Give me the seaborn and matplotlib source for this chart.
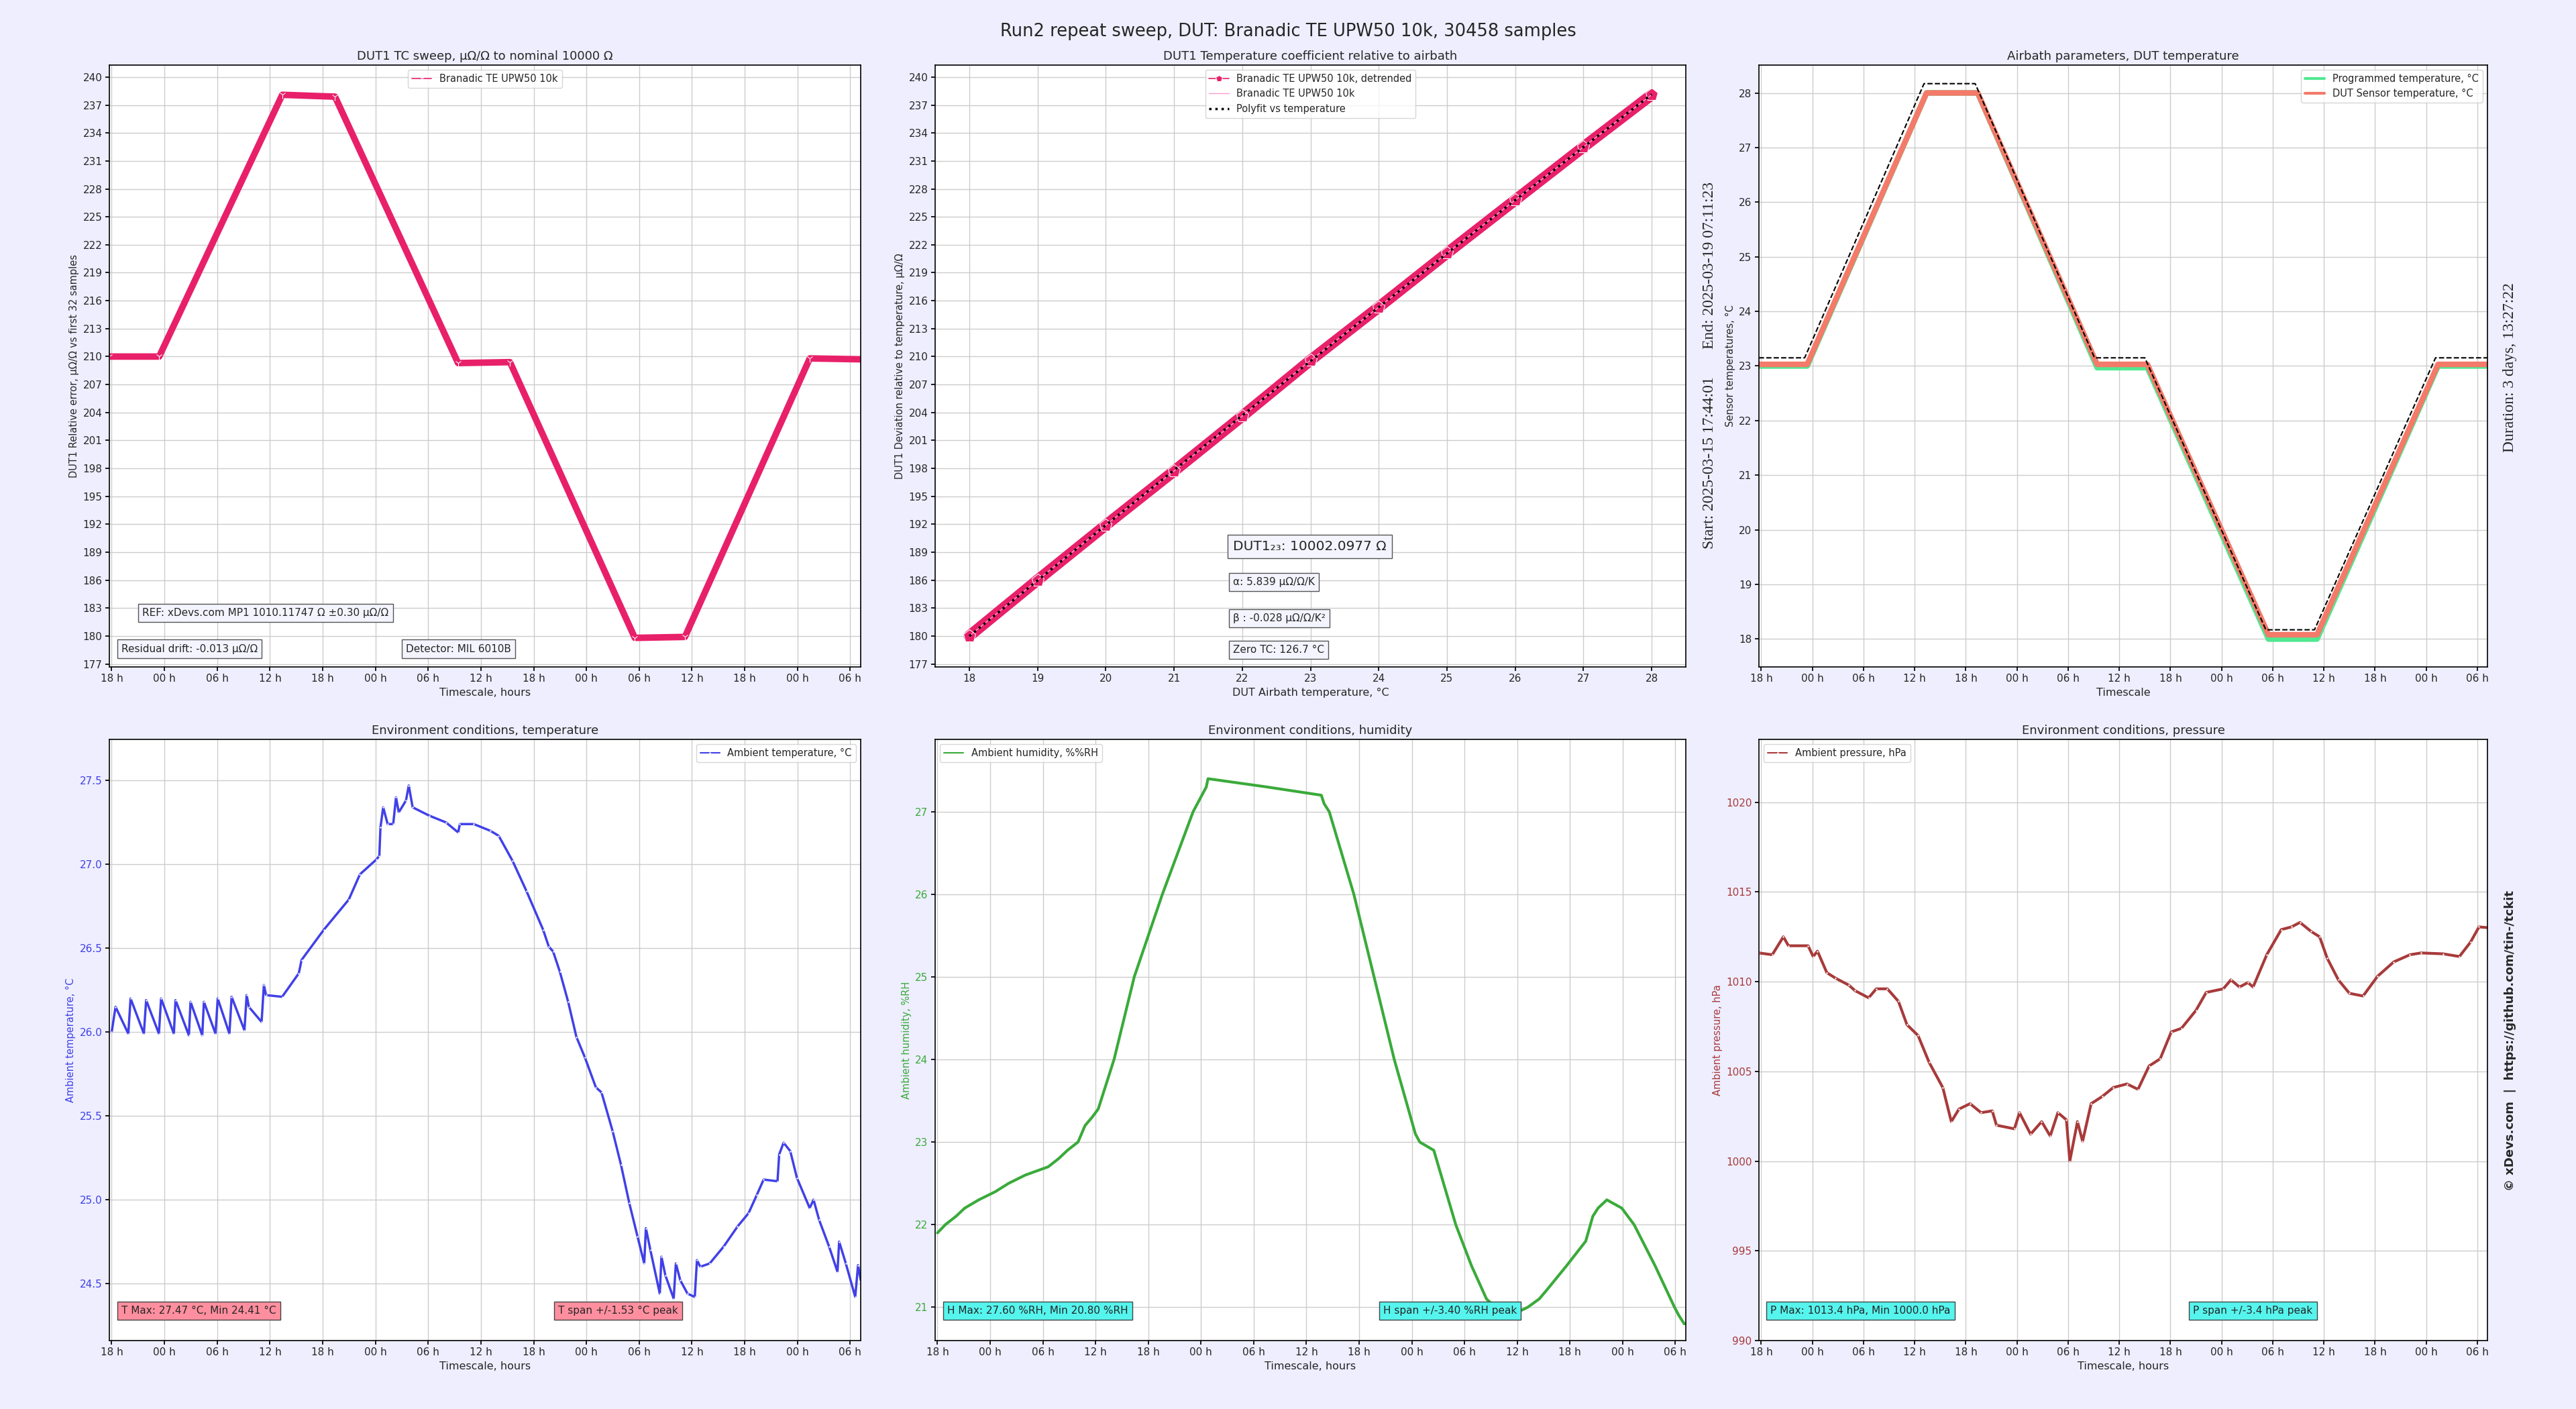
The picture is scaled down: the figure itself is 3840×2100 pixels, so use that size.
import numpy as np
import pandas as pd
import matplotlib
matplotlib.use("Agg")
import matplotlib.pyplot as plt
import matplotlib.dates as mdates
import seaborn as sns

# ---------------- data ----------------
base = pd.Timestamp("2025-03-15 18:00:00")
t_start = pd.Timestamp("2025-03-15 17:44:01")
t_end = pd.Timestamp("2025-03-19 07:11:23")

# hours after 18:00 on 2025-03-15
sweep_h = [-0.27, 5.4, 19.4, 25.4, 39.4, 45.3, 59.5, 65.2, 79.4, 85.45]
dut_err = [210.0, 210.0, 238.1, 237.9, 209.3, 209.4, 179.8, 179.9, 209.8, 209.7]
prog_temp = [23.0, 23.0, 28.0, 28.0, 22.97, 22.97, 18.0, 18.0, 23.0, 23.0]
sens_temp = [23.03, 23.03, 28.0, 28.0, 23.03, 23.03, 18.08, 18.08, 23.03, 23.03]
set_h = [-0.27, 5.1, 19.1, 25.1, 39.1, 45.0, 59.2, 64.9, 79.1, 85.45]
set_temp = [23.15, 23.15, 28.17, 28.17, 23.15, 23.15, 18.17, 18.17, 23.15, 23.15]

tc_temp = [18, 19, 20, 21, 22, 23, 24, 25, 26, 27, 28]
tc_dev = [180.0, 186.0, 191.9, 197.7, 203.6, 209.6, 215.3, 221.1, 226.8, 232.5, 238.1]

amb_t_h = [0, 0.44, 1.89, 2.15, 3.66, 3.92, 5.37, 5.62, 7.07, 7.26, 8.78, 8.97, 10.3, 10.49,
           11.81, 12.06, 13.39, 13.64, 15.1, 15.35, 15.6, 17.05, 17.31, 17.56, 19.39, 21.28,
           21.6, 24.13, 26.97, 28.23, 30.13, 30.44, 30.57, 30.88, 31.39, 32.02, 32.34, 32.65,
           33.47, 33.79, 34.23, 36.13, 38.02, 39.41, 39.6, 41.18, 43.07, 44.02, 45.6, 47.18,
           49.07, 49.71, 50.21, 50.97, 51.92, 52.86, 53.81, 55.07, 55.71, 56.97, 57.92, 58.87,
           59.81, 60.57, 60.76, 61.27, 62.34, 62.53, 62.97, 63.92, 64.17, 64.67, 65.49, 66.32,
           66.57, 66.95, 68.02, 69.6, 71.18, 72.44, 73.39, 74.15, 75.73, 75.92, 76.42, 77.18,
           77.94, 79.39, 79.83, 80.46, 81.6, 82.55, 82.74, 83.5, 84.57, 84.89, 85.2]
amb_t = [26.0, 26.15, 25.99, 26.2, 25.99, 26.19, 25.99, 26.2, 25.99, 26.19, 25.98, 26.18, 25.98,
         26.18, 25.99, 26.2, 25.99, 26.21, 26.01, 26.22, 26.15, 26.06, 26.28, 26.22, 26.21, 26.35,
         26.43, 26.61, 26.79, 26.94, 27.03, 27.05, 27.22, 27.34, 27.24, 27.24, 27.40, 27.31,
         27.38, 27.47, 27.34, 27.29, 27.25, 27.19, 27.24, 27.24, 27.2, 27.17, 27.02, 26.84,
         26.61, 26.51, 26.48, 26.36, 26.18, 25.97, 25.85, 25.67, 25.64, 25.41, 25.21, 24.98,
         24.78, 24.62, 24.83, 24.7, 24.44, 24.66, 24.55, 24.41, 24.62, 24.52, 24.44, 24.42,
         24.64, 24.6, 24.62, 24.72, 24.84, 24.92, 25.03, 25.12, 25.11, 25.27, 25.34, 25.29,
         25.13, 24.95, 25.0, 24.88, 24.72, 24.57, 24.75, 24.62, 24.42, 24.61, 24.52]

amb_h_h = [0, 0.9, 2.1, 3.1, 4.7, 6.6, 8.1, 10.0, 12.6, 13.8, 14.8, 16.0, 16.4, 16.8, 17.6, 18.3,
           20.1, 22.4, 25.6, 29.1, 30.1, 30.6, 30.8, 37.5, 43.7, 44.0, 44.6, 47.4, 49.7, 52.0,
           54.4, 54.9, 56.5, 59.0, 60.8, 62.5, 63.5, 65.3, 67.2, 68.5, 69.3, 71.6, 73.8, 74.6,
           75.2, 76.2, 77.9, 79.3, 81.7, 83.9, 84.4, 85.0, 85.45]
amb_h = [21.9, 22.0, 22.1, 22.2, 22.3, 22.4, 22.5, 22.6, 22.7, 22.8, 22.9, 23.0, 23.1, 23.2, 23.3,
         23.4, 24.0, 25.0, 26.0, 27.0, 27.2, 27.3, 27.4, 27.3, 27.2, 27.1, 27.0, 26.0, 25.0, 24.0,
         23.1, 23.0, 22.9, 22.0, 21.5, 21.1, 21.0, 20.9, 21.0, 21.1, 21.2, 21.5, 21.8, 22.1,
         22.2, 22.3, 22.2, 22.0, 21.5, 21.0, 20.9, 20.8, 20.8]

amb_p_h = [-0.27, 1.3, 2.6, 3.2, 5.5, 6.1, 6.6, 7.7, 8.7, 10.3, 11.0, 12.6, 13.5, 14.8, 16.1, 17.1,
           18.4, 19.7, 21.3, 22.3, 23.2, 24.5, 25.8, 27.1, 27.6, 29.7, 30.3, 31.6, 32.9, 33.9,
           34.8, 35.8, 36.2, 37.1, 37.7, 38.7, 40.0, 41.3, 42.9, 44.2, 45.5, 46.8, 48.1, 49.3,
           51.0, 52.2, 54.2, 55.1, 56.1, 57.1, 57.7, 59.3, 61.0, 62.2, 63.2, 64.5, 65.5, 66.4,
           67.7, 69.0, 70.6, 72.3, 74.2, 76.1, 77.4, 80.0, 81.9, 83.2, 84.2, 85.45]
amb_p = [1011.6, 1011.5, 1012.5, 1012.0, 1012.0, 1011.4, 1011.7, 1010.5, 1010.2, 1009.8, 1009.5,
         1009.1, 1009.6, 1009.6, 1008.9, 1007.6, 1007.0, 1005.5, 1004.1, 1002.2, 1002.9, 1003.2,
         1002.7, 1002.8, 1002.0, 1001.8, 1002.7, 1001.5, 1002.2, 1001.4, 1002.7, 1002.3, 1000.0,
         1002.2, 1001.1, 1003.2, 1003.6, 1004.1, 1004.3, 1004.0, 1005.3, 1005.7, 1007.2, 1007.4,
         1008.4, 1009.4, 1009.6, 1010.1, 1009.7, 1009.95, 1009.7, 1011.5, 1012.9, 1013.05,
         1013.3, 1012.8, 1012.5, 1011.3, 1010.1, 1009.35, 1009.2, 1010.3, 1011.1, 1011.5,
         1011.6, 1011.55, 1011.4, 1012.2, 1013.05, 1013.0]


def to_time(hours):
    return base + pd.to_timedelta(np.asarray(hours), unit="h")


# ---------------- style ----------------
sns.set_theme(style="whitegrid")
plt.rcParams["font.family"] = ["DejaVu Sans"]
plt.rcParams["grid.color"] = "#cccccc"

TICK = 11
LAB = 10.5
LEG = 10.5
ANN = 11

W, H = 3840, 2100
fig = plt.figure(figsize=(38.4, 21), dpi=100, facecolor="#eeeeff")
cols = [(163, 1283), (1394, 2513), (2622, 3708)]
rows = [(97, 994), (1102, 1998)]
axes = [[fig.add_axes([x0 / W, 1 - y1 / H, (x1 - x0) / W, (y1 - y0) / H])
         for (x0, x1) in cols] for (y0, y1) in rows]

fig.suptitle("Run2 repeat sweep, DUT: Branadic TE UPW50 10k, 30458 samples",
             fontsize=18.5, y=0.984)

boxw = dict(boxstyle="square,pad=0.4", facecolor="#f4f4ff", edgecolor="#555555")


def time_axis(ax, xlabel):
    ax.set_xlim(t_start, t_end)
    ax.xaxis.set_major_locator(mdates.HourLocator(byhour=[0, 6, 12, 18]))
    ax.xaxis.set_major_formatter(mdates.DateFormatter("%H h"))
    ax.set_xlabel(xlabel, fontsize=LAB + 1)


def style(ax, title):
    ax.set_facecolor("white")
    ax.set_title(title, fontsize=13)
    for s in ax.spines.values():
        s.set_color("black")
        s.set_linewidth(1.2)
    ax.tick_params(axis="both", labelsize=TICK, length=4, color="black", left=True, bottom=True)


# ---- top left ----
ax = axes[0][0]
sns.lineplot(x=to_time(sweep_h), y=dut_err, ax=ax, color="#e8206a", lw=7, marker="1",
             markersize=8, label="Branadic TE UPW50 10k", estimator=None, sort=False)
ax.set_ylim(176.68, 241.29)
ax.set_yticks(np.arange(177, 241, 3))
time_axis(ax, "Timescale, hours")
ax.set_ylabel("DUT1 Relative error, µΩ/Ω vs first 32 samples", fontsize=LAB)
leg = ax.legend(loc="upper center", fontsize=LEG)
for l in leg.get_lines():
    l.set_linewidth(1.2)
ax.text(0.044, 0.09, "REF: xDevs.com MP1 1010.11747 Ω ±0.30 µΩ/Ω", transform=ax.transAxes,
        fontsize=ANN, va="center", bbox=boxw)
ax.text(0.016, 0.03, "Residual drift: -0.013 µΩ/Ω", transform=ax.transAxes,
        fontsize=ANN, va="center", bbox=boxw)
ax.text(0.395, 0.03, "Detector: MIL 6010B", transform=ax.transAxes,
        fontsize=ANN, va="center", bbox=boxw)
style(ax, "DUT1 TC sweep, µΩ/Ω to nominal 10000 Ω")

# ---- top middle ----
ax = axes[0][1]
sns.lineplot(x=tc_temp, y=tc_dev, ax=ax, color="#e8206a", lw=12, marker="p", markersize=14,
             label="Branadic TE UPW50 10k, detrended", estimator=None, sort=False)
sns.lineplot(x=tc_temp, y=tc_dev, ax=ax, color="#ff9ad0", lw=1,
             label="Branadic TE UPW50 10k", estimator=None, sort=False)
coef = np.polyfit(tc_temp, tc_dev, 2)
sns.lineplot(x=tc_temp, y=np.polyval(coef, tc_temp), ax=ax, color="black", lw=2.5,
             linestyle=":", label="Polyfit vs temperature", estimator=None, sort=False)
ax.set_xlim(17.5, 28.5)
ax.set_xticks(range(18, 29))
ax.set_ylim(176.68, 241.29)
ax.set_yticks(np.arange(177, 241, 3))
ax.set_xlabel("DUT Airbath temperature, °C", fontsize=LAB + 1)
ax.set_ylabel("DUT1 Deviation relative to temperature, µΩ/Ω", fontsize=LAB)
leg = ax.legend(loc="upper center", fontsize=LEG)
leg.get_lines()[0].set_linewidth(1.2)
leg.get_lines()[0].set_markersize(7)
ax.text(0.397, 0.20, "DUT1₂₃: 10002.0977 Ω", transform=ax.transAxes, fontsize=14.5,
        va="center", bbox=boxw)
ax.text(0.397, 0.141, "α: 5.839 µΩ/Ω/K", transform=ax.transAxes, fontsize=ANN,
        va="center", bbox=boxw)
ax.text(0.397, 0.081, "β : -0.028 µΩ/Ω/K²", transform=ax.transAxes, fontsize=ANN,
        va="center", bbox=boxw)
ax.text(0.397, 0.028, "Zero TC: 126.7 °C", transform=ax.transAxes, fontsize=ANN,
        va="center", bbox=boxw)
style(ax, "DUT1 Temperature coefficient relative to airbath")

# ---- top right ----
ax = axes[0][2]
sns.lineplot(x=to_time(sweep_h), y=prog_temp, ax=ax, color="#50e890", lw=6,
             label="Programmed temperature, °C", estimator=None, sort=False)
sns.lineplot(x=to_time(sweep_h), y=sens_temp, ax=ax, color="#f47a6a", lw=6,
             label="DUT Sensor temperature, °C", estimator=None, sort=False)
sns.lineplot(x=to_time(set_h), y=set_temp, ax=ax, color="black", lw=1.5, linestyle="--",
             estimator=None, sort=False)
ax.set_ylim(17.49, 28.51)
ax.set_yticks(range(18, 29))
time_axis(ax, "Timescale")
ax.set_ylabel("Sensor temperatures, °C", fontsize=LAB)
leg = ax.legend(loc="upper right", fontsize=LEG)
for l in leg.get_lines():
    l.set_linewidth(3)
style(ax, "Airbath parameters, DUT temperature")

# ---- bottom left ----
ax = axes[1][0]
cT = "#4040e8"
sns.lineplot(x=to_time(amb_t_h), y=amb_t, ax=ax, color=cT, lw=2.5, marker=".", markersize=2,
             label="Ambient temperature, °C", estimator=None, sort=False)
ax.set_ylim(24.16, 27.745)
ax.set_yticks([24.5, 25.0, 25.5, 26.0, 26.5, 27.0, 27.5])
ax.yaxis.set_major_formatter(matplotlib.ticker.FormatStrFormatter("%.1f"))
time_axis(ax, "Timescale, hours")
ax.set_ylabel("Ambient temperature, °C", fontsize=LAB, color=cT)
leg = ax.legend(loc="upper right", fontsize=LEG)
leg.get_lines()[0].set_linewidth(1.5)
bp = dict(boxstyle="square,pad=0.4", facecolor="#ff8f9f", edgecolor="#444444")
ax.text(0.016, 0.05, "T Max: 27.47 °C, Min 24.41 °C", transform=ax.transAxes, fontsize=ANN,
        va="center", bbox=bp)
ax.text(0.597, 0.05, "T span +/-1.53 °C peak", transform=ax.transAxes, fontsize=ANN,
        va="center", bbox=bp)
style(ax, "Environment conditions, temperature")
ax.tick_params(axis="y", labelcolor=cT)

# ---- bottom middle ----
ax = axes[1][1]
cH = "#3aaa3a"
sns.lineplot(x=to_time(amb_h_h), y=amb_h, ax=ax, color=cH, lw=3,
             label="Ambient humidity, %%RH", estimator=None, sort=False)
ax.set_ylim(20.596, 27.876)
time_axis(ax, "Timescale, hours")
ax.set_ylabel("Ambient humidity, %RH", fontsize=LAB, color=cH)
leg = ax.legend(loc="upper left", fontsize=LEG)
leg.get_lines()[0].set_linewidth(1.5)
bc = dict(boxstyle="square,pad=0.4", facecolor="#55f5ee", edgecolor="#444444")
ax.text(0.016, 0.05, "H Max: 27.60 %RH, Min 20.80 %RH", transform=ax.transAxes, fontsize=ANN,
        va="center", bbox=bc)
ax.text(0.597, 0.05, "H span +/-3.40 %RH peak", transform=ax.transAxes, fontsize=ANN,
        va="center", bbox=bc)
style(ax, "Environment conditions, humidity")
ax.tick_params(axis="y", labelcolor=cH)

# ---- bottom right ----
ax = axes[1][2]
cP = "#a83a3a"
sns.lineplot(x=to_time(amb_p_h), y=amb_p, ax=ax, color=cP, lw=3, marker=".", markersize=2,
             label="Ambient pressure, hPa", estimator=None, sort=False)
ax.set_ylim(990, 1023.5)
ax.set_yticks([990, 995, 1000, 1005, 1010, 1015, 1020])
time_axis(ax, "Timescale, hours")
ax.set_ylabel("Ambient pressure, hPa", fontsize=LAB, color=cP)
leg = ax.legend(loc="upper left", fontsize=LEG)
leg.get_lines()[0].set_linewidth(1.5)
ax.text(0.016, 0.05, "P Max: 1013.4 hPa, Min 1000.0 hPa", transform=ax.transAxes, fontsize=ANN,
        va="center", bbox=bc)
ax.text(0.596, 0.05, "P span +/-3.4 hPa peak", transform=ax.transAxes, fontsize=ANN,
        va="center", bbox=bc)
style(ax, "Environment conditions, pressure")
ax.tick_params(axis="y", labelcolor=cP)

# ---- side texts ----
SERIF = ["Liberation Serif", "DejaVu Serif"]
fig.text(2549 / W, 1 - 690 / H, "Start: 2025-03-15 17:44:01", rotation=90,
         fontsize=17, family=SERIF, ha="center", va="center")
fig.text(2549 / W, 1 - 395 / H, "End: 2025-03-19 07:11:23", rotation=90,
         fontsize=17, family=SERIF, ha="center", va="center")
fig.text(3742 / W, 1 - 548 / H, "Duration: 3 days, 13:27:22", rotation=90,
         fontsize=17, family=SERIF, ha="center", va="center")
fig.text(3742 / W, 1 - 1551 / H, "© xDevs.com  |  https://github.com/tin-/tckit",
         rotation=90, fontsize=13, fontweight="bold", ha="center", va="center")

fig.savefig("out.png", dpi=100, facecolor=fig.get_facecolor())
